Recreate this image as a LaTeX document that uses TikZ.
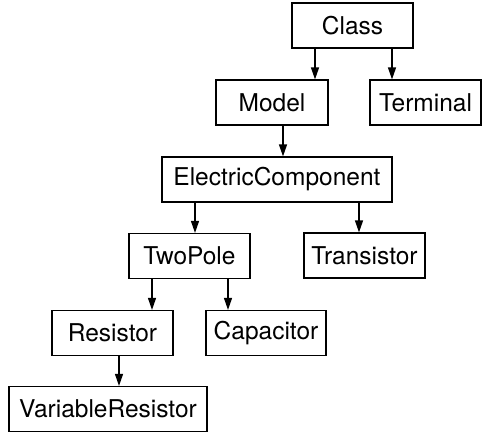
\documentclass[tikz,border=0pt]{standalone}
\usepackage{fontspec}
\setmainfont{TeX Gyre Heros}
\usetikzlibrary{arrows.meta}

\begin{document}
\begin{tikzpicture}[x=1pt, y=-1pt, >={Triangle[length=12pt, width=8pt]},
    cls/.style={draw, line width=1.2pt, minimum height=45pt, inner sep=0pt,
        font=\fontsize{24.5}{28}\selectfont},
    inherit/.style={->, line width=1.2pt}]

    \useasboundingbox (0,0) rectangle (483,432);

    % class boxes
    \node[cls, line width=2.6pt, minimum width=121pt] (class) at (352.5,25.5) {Class};
    \node[cls, minimum width=112pt] (model) at (272,102.5) {Model};
    \node[cls, minimum width=111pt] (terminal) at (425.5,102.5) {Terminal};
    \node[cls, minimum width=230pt] (electric) at (277,179.5) {ElectricComponent};
    \node[cls, minimum width=121pt] (twopole) at (189.5,256) {TwoPole};
    \node[cls, minimum width=121pt] (transistor) at (364.5,255.5) {Transistor};
    \node[cls, minimum width=121pt] (resistor) at (112.5,333) {Resistor};
    \node[cls, minimum width=120pt] (capacitor) at (266,333) {Capacitor};
    \node[cls, minimum width=198pt] (varres) at (108,409) {VariableResistor};

    % inheritance arrows
    \foreach \from/\to/\x in {class/model/315, class/terminal/392,
        model/electric/283, electric/twopole/195, electric/transistor/359,
        twopole/resistor/152, twopole/capacitor/228, resistor/varres/119}
        \draw[inherit] (\from.south -| \x,0) -- (\to.north -| \x,0);

\end{tikzpicture}
\end{document}
